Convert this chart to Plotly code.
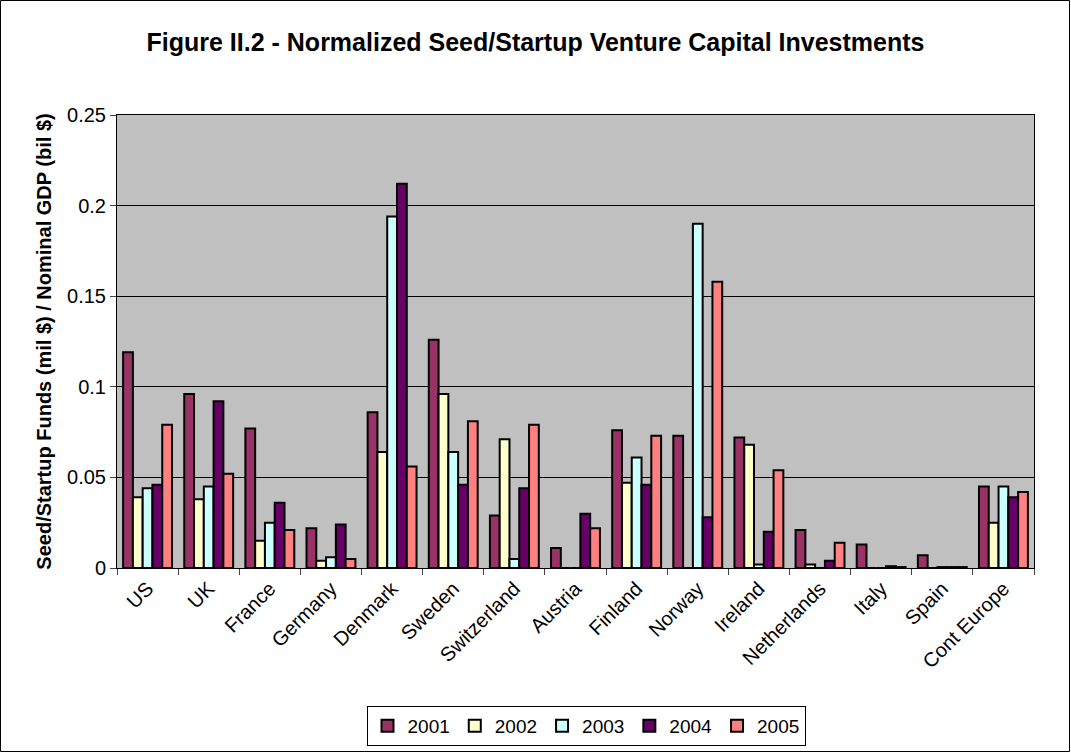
import plotly.graph_objects as go

countries = ["US", "UK", "France", "Germany", "Denmark", "Sweden", "Switzerland",
             "Austria", "Finland", "Norway", "Ireland", "Netherlands", "Italy",
             "Spain", "Cont Europe"]
years = ["2001", "2002", "2003", "2004", "2005"]

v2001 = [0.119, 0.096, 0.077, 0.022, 0.086, 0.126, 0.029, 0.011, 0.076, 0.073, 0.072, 0.021, 0.013, 0.007, 0.045]
v2002 = [0.039, 0.038, 0.015, 0.004, 0.064, 0.096, 0.071, 0.0, 0.047, 0.0, 0.068, 0.002, 0.0, 0.0, 0.025]
v2003 = [0.044, 0.045, 0.025, 0.006, 0.194, 0.064, 0.005, 0.0, 0.061, 0.190, 0.002, 0.0, 0.0, 0.0005, 0.045]
v2004 = [0.046, 0.092, 0.036, 0.024, 0.212, 0.046, 0.044, 0.030, 0.046, 0.028, 0.020, 0.004, 0.001, 0.0005, 0.039]
v2005 = [0.079, 0.052, 0.021, 0.005, 0.056, 0.081, 0.079, 0.022, 0.073, 0.158, 0.054, 0.014, 0.0005, 0.0005, 0.042]

colors = ["#993366", "#FFFFCC", "#CCFFFF", "#660066", "#FF8080"]
series = [v2001, v2002, v2003, v2004, v2005]

fig = go.Figure()
for year, vals, col in zip(years, series, colors):
    fig.add_trace(go.Bar(
        x=countries, y=vals, name=year,
        marker=dict(color=col, line=dict(color="black", width=2))
    ))

W, H = 1071, 753
L, R, T, B = 117, 37, 115, 185
pw, ph = W - L - R, H - T - B

fig.update_layout(
    width=W, height=H,
    margin=dict(l=L, r=R, t=T, b=B, autoexpand=False),
    barmode="group", bargap=0.2, bargroupgap=0,
    paper_bgcolor="white", plot_bgcolor="#C0C0C0",
    font=dict(family="Liberation Sans, Arial", size=20, color="black"),
    title=dict(text="<b>Figure II.2 - Normalized Seed/Startup Venture Capital Investments</b>",
               x=0.5, xref="container", y=1 - 42 / H, yref="container",
               yanchor="middle", font=dict(size=25)),
    xaxis=dict(tickangle=-45, ticks="outside", ticklen=6, tickson="boundaries",
               showline=True, linecolor="black", linewidth=1, mirror=True,
               tickfont=dict(size=20)),
    yaxis=dict(range=[0, 0.25], dtick=0.05, tickformat="~g", ticks="outside",
               ticklen=6, showgrid=True, gridcolor="black", gridwidth=1,
               showline=True, linecolor="black", linewidth=1, mirror=True,
               zeroline=False, tickfont=dict(size=20),
               title=dict(text="<b>Seed/Startup Funds (mil $) / Nominal GDP (bil $)</b>",
                          font=dict(size=20), standoff=10)),
    legend=dict(orientation="h", x=(586 - L) / pw, xanchor="center",
                y=-(746 - T - ph) / ph, yanchor="bottom",
                bordercolor="black", borderwidth=1, bgcolor="white",
                font=dict(size=19), itemwidth=30, tracegroupgap=0),
    shapes=[dict(type="rect", xref="paper", yref="paper",
                 x0=-(L - 0.5) / pw, x1=1 + (R - 1.5) / pw,
                 y0=-(B - 1.5) / ph, y1=1 + (T - 0.5) / ph,
                 line=dict(color="black", width=1))],
)

fig.write_html("out.html", config={"displayModeBar": False},
               post_script="document.body.style.margin='0';")
